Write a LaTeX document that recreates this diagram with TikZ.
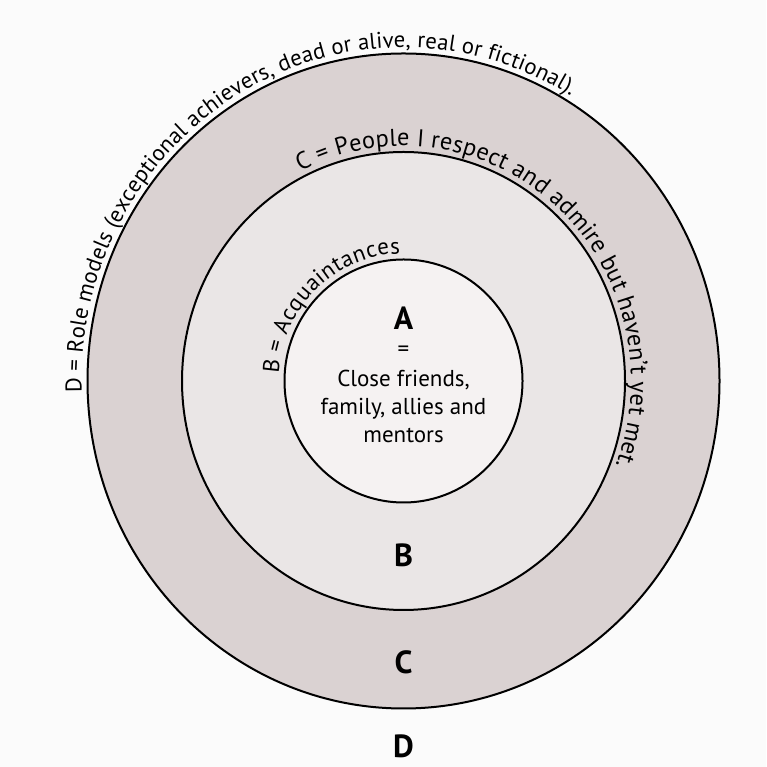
\documentclass[tikz,border=0pt]{standalone}
\usepackage{fontspec}
\setmainfont{PT Sans}
\usetikzlibrary{decorations.text}
\definecolor{bgcol}{HTML}{FBFBFB}
\definecolor{ringD}{HTML}{DAD2D2}
\definecolor{ringB}{HTML}{EAE6E6}
\definecolor{coreA}{HTML}{F5F2F2}
\newcommand\curvefont[1]{\fontsize{#1}{#1}\selectfont}
\begin{document}
\begin{tikzpicture}[x=1pt,y=1pt,
  ring/.style={draw=black, line width=2pt},
  biglabel/.style={font=\fontsize{32}{32}\selectfont\bfseries, inner sep=0pt},
  bodytext/.style={font=\fontsize{23}{23}\selectfont, inner sep=0pt, anchor=base},
  curvetext/.style 2 args={decorate, decoration={text along path, text align=left, raise=6pt, text={|\curvefont{#1}|#2}}}]
\fill[bgcol] (0,0) rectangle (766,767);
\useasboundingbox (0,0) rectangle (766,767);
\coordinate (O) at (403.5,386);
\draw[ring, fill=ringD] (O) ellipse [x radius=316pt, y radius=327.5pt];
\draw[ring, fill=ringB] (O) ellipse [x radius=221.5pt, y radius=229pt];
\draw[ring, fill=coreA] (O) ellipse [x radius=119pt, y radius=121.5pt];
\path[curvetext={22.7}{D = Role models (exceptional achievers, dead or alive, real or fictional).}]
  ([shift={(182:316pt and 327.5pt)}]O) arc [start angle=182, end angle=10, x radius=316pt, y radius=327.5pt];
\path[curvetext={24.3}{C = People I respect and admire but haven’t yet met.}]
  ([shift={(117:221.5pt and 229pt)}]O) arc [start angle=117, end angle=-70, x radius=221.5pt, y radius=229pt];
\path[curvetext={23}{B = Acquaintances}]
  ([shift={(177:119pt and 121.5pt)}]O) arc [start angle=177, end angle=40, x radius=119pt, y radius=121.5pt];
\node[biglabel] (lA) at (403.5,449) {A};
\node[bodytext] (leq) at (403.5,410) {=};
\node[bodytext] (l1) at (403.5,380) {Close friends,};
\node[bodytext] (l2) at (403.5,352) {family, allies and};
\node[bodytext] (l3) at (403.5,324) {mentors};
\node[biglabel] (lB) at (403.5,212) {B};
\node[biglabel] (lC) at (403.5,105) {C};
\node[biglabel] (lD) at (403.5,21) {D};
\end{tikzpicture}
\end{document}
